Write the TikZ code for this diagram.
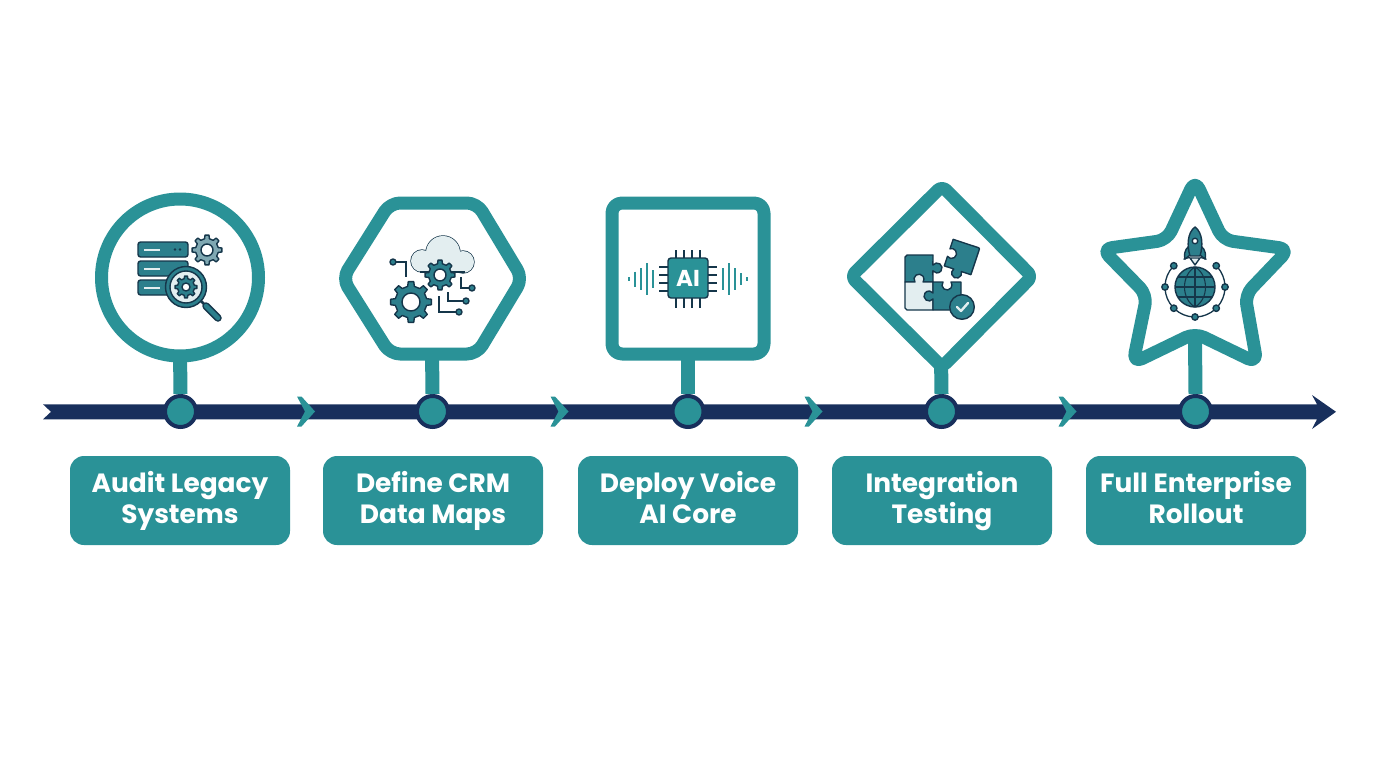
\documentclass[tikz,border=0pt]{standalone}
\usepackage{fontspec}
\setmainfont{Poppins}
\definecolor{teal1}{HTML}{2A9297}
\definecolor{navy1}{HTML}{182F5C}
\definecolor{ink}{HTML}{15364A}
\definecolor{iconteal}{HTML}{2C7F8C}
\definecolor{pale}{HTML}{E3EEF0}
\definecolor{greyteal}{HTML}{7FA8B2}
\newcommand{\lsa}{\rule{0pt}{23pt}}
\newcommand{\lsb}{\rule[-8pt]{0pt}{8pt}}
\tikzset{
  x=1pt,y=-1pt,
  frameline/.style={draw=teal1,line width=13pt,fill=white,line join=round},
  stem/.style={draw=teal1,line width=14pt},
  dotnode/.style={circle,draw=navy1,fill=teal1,line width=4pt,minimum size=31pt,inner sep=0pt},
  labelbox/.style={rectangle,rounded corners=14pt,fill=teal1,minimum width=220pt,minimum height=89pt,inner sep=0pt,
    text=white,align=center,font=\fontsize{26.4}{31.5}\selectfont\bfseries},
  chev/.style={fill=teal1},
  ic/.style={draw=ink,line width=1.4pt,line join=round},
  wire/.style={draw=ink,line width=1.3pt},
  wave/.style={draw=teal1,line width=2.2pt},
  pin/.style={draw=ink,line width=2pt},
}
% gear: x y outer inner hole teeth fill
\newcommand{\cog}[7]{%
  \begin{scope}[shift={(#1,#2)}]
    \pgfmathsetmacro{\st}{360/#6}
    \pgfmathsetmacro{\wa}{\st*0.17}
    \pgfmathsetmacro{\wb}{\st*0.27}
    \draw[ic,fill=#7] (-\wa:#3)
      \foreach \k in {1,...,#6} {
        \pgfextra{\pgfmathsetmacro{\ca}{(\k-1)*\st}}
        -- ({\ca-\wa}:#3) -- ({\ca+\wa}:#3) -- ({\ca+\wb}:#4) -- ({\ca+\st-\wb}:#4)
      } -- cycle;
    \draw[ic,fill=white] (0,0) circle[radius=#5];
  \end{scope}}
\newcommand{\chevron}[1]{%
  \fill[chev] (#1,396.5) -- (#1+4.5,396.5) -- (#1+18,411.5) -- (#1+4.5,426.5) -- (#1,426.5) -- (#1+8,411.5) -- cycle;}
\begin{document}
\begin{tikzpicture}
\useasboundingbox (0,0) rectangle (1376,768);
\coordinate (s1) at (180,350);
\coordinate (s2) at (432,350);
\coordinate (s3) at (688,350);
\coordinate (s4) at (941,355);
\coordinate (s5) at (1195,340);
% timeline
\fill[navy1] (43,404.3) -- (1317,404.3) -- (1312,395) -- (1336,411.8) -- (1312,429) -- (1317,419.3) -- (43,419.3) -- (51,411.8) -- cycle;
\chevron{297}\chevron{550.5}\chevron{804.5}\chevron{1058.5}
\node[dotnode] (d1) at (180.5,411.5) {};
\node[dotnode] (d2) at (432.5,411.5) {};
\node[dotnode] (d3) at (688,411.5) {};
\node[dotnode] (d4) at (941.5,411.5) {};
\node[dotnode] (d5) at (1195.5,411.5) {};
% stems
\draw[stem] (s1) -- (d1.north);
\draw[stem] (s2) -- (d2.north);
\draw[stem] (s3) -- (d3.north);
\draw[stem] (s4) -- (d4.north);
\draw[stem] (s5) -- (d5.north);
% frames
\draw[frameline] (180,277.5) circle[radius=78.5];
\draw[frameline,rounded corners=10pt] (342.5,278.5) -- (390,203) -- (477,203) -- (522.5,278.5) -- (477,354) -- (390,354) -- cycle;
\draw[frameline,rounded corners=10pt] (612,203) rectangle (764,354);
\draw[frameline,rounded corners=6pt] (942,186) -- (1032,276.5) -- (942,367) -- (851,276.5) -- cycle;
\draw[frameline,rounded corners=10pt] (1195,180) -- (1223,240) -- (1289,249) -- (1245,295) -- (1257,363) -- (1195,333) -- (1133,363) -- (1147,295) -- (1102,249) -- (1167,240) -- cycle;
% labels
\node[labelbox] (b1) at (180,500.5) {\lsa Audit Legacy\\\lsb Systems};
\node[labelbox] (b2) at (433,500.5) {\lsa Define CRM\\\lsb Data Maps};
\node[labelbox] (b3) at (688,500.5) {\lsa Deploy Voice\\\lsb AI Core};
\node[labelbox] (b4) at (942,500.5) {\lsa Integration\\\lsb Testing};
\node[labelbox] (b5) at (1196,500.5) {\lsa Full Enterprise\\\lsb Rollout};
% icon 1
\foreach \yy in {242,261,280}{
  \draw[ic,fill=iconteal,rounded corners=2.5pt] (138,\yy) rectangle (188,\yy+15);
  \fill[pale] (143.5,\yy+6.5) rectangle (160,\yy+8.5);
}
\fill[ink] (175,249.5) circle[radius=1.4] (180,249.5) circle[radius=1.4];
\cog{207}{250}{15}{11.5}{6}{8}{greyteal}
\draw[ink,line width=2.6pt] (198,298) -- (205,305);
\draw[ink,line width=7.5pt,line cap=round] (206,306) -- (218,318);
\draw[iconteal,line width=4.5pt,line cap=round] (206,306) -- (218,318);
\draw[ic,fill=iconteal] (186,287) circle[radius=20.5];
\draw[ic,fill=pale] (186,287) circle[radius=16];
\cog{186}{287}{11}{8.5}{4}{8}{iconteal}
% icon 2
\draw[ic] (422,261) circle[radius=11];
\draw[ic] (443,253) circle[radius=17];
\draw[ic] (463,262) circle[radius=11];
\fill[pale] (422,261) circle[radius=11];
\fill[pale] (443,253) circle[radius=17];
\fill[pale] (463,262) circle[radius=11];
\fill[pale] (422,255) rectangle (463,272);
\draw[ic] (420,272) -- (465,272);
\draw[wire] (396,262) -- (406,262) -- (406,277);
\draw[wire] (461,277) -- (461,288) -- (469,288);
\draw[wire] (448,292) -- (448,301) -- (463,301);
\draw[wire] (439,296) -- (439,312) -- (456,312);
\draw[ic,fill=iconteal] (393,262) circle[radius=3] (472,288) circle[radius=3] (466,301) circle[radius=3] (459,312) circle[radius=3];
\cog{440}{275}{15}{11.5}{6}{8}{iconteal}
\cog{411}{302}{20.5}{16}{9}{8}{iconteal}
% icon 3
\foreach \xx in {676,684,692,700}{
  \draw[pin] (\xx,250) -- (\xx,258);
  \draw[pin] (\xx,298) -- (\xx,308);
}
\foreach \yy in {267,275,283,291}{
  \draw[pin] (659,\yy) -- (668,\yy);
  \draw[pin] (708,\yy) -- (717,\yy);
}
\draw[ic,fill=teal1,rounded corners=3pt] (668,258) rectangle (708,298);
\node[text=white,font=\fontsize{23}{23}\selectfont\bfseries,inner sep=0pt] (ai) at (688,278.5) {AI};
\foreach \xx/\hh in {629/2,635/7.5,641/11,647/16,653/9,723/11,729/16,735/11,741/6,747/2}{
  \draw[wave] (\xx,279-\hh) -- (\xx,279+\hh);
}
% icon 4
\draw[ic,fill=iconteal] (905,282) -- (905,257) -- (907,255) -- (933,255) -- (932.9,265.1) arc[start angle=-145,end angle=145,radius=5] -- (933,282) -- cycle;
\draw[ic,fill=pale] (905,282) -- (914.9,282) arc[start angle=145,end angle=395,radius=5] -- (933,282) -- (933,310) -- (907,310) -- (905,308) -- cycle;
\draw[ic,fill=iconteal] (933,282) -- (943,282) arc[start angle=217,end angle=-37,radius=5] -- (961,282) -- (961,310) -- (933,310) -- (933,299) arc[start angle=37,end angle=323,radius=5] -- cycle;
\begin{scope}[shift={(962,257)},rotate=-18.4]
  \draw[ic,fill=iconteal] (-14,-14) -- (13,-14) -- (14,-13) -- (14,14) -- (4,14) arc[start angle=-37,end angle=217,radius=5] -- (-14,14) -- (-14,4) arc[start angle=127,end angle=-127,radius=5] -- cycle;
\end{scope}
\draw[ic,fill=iconteal] (962,307) circle[radius=12.3];
\draw[pale,line width=2.4pt,line cap=round,line join=round] (957,307) -- (961,311) -- (968,303);
% icon 5
\foreach \a in {-22.5,22.5,67.5,112.5,157.5,202.5}{
  \draw[wire] (1195,287) ++(\a-22.5+3:30) arc[start angle=\a-22.5+3,end angle=\a+22.5-3,radius=30];
}
\draw[wire] (1195,287) ++(-112.5:30) arc[start angle=-112.5,end angle=-100,radius=30];
\draw[wire] (1195,287) ++(-67.5:30) arc[start angle=-67.5,end angle=-80,radius=30];
\draw[ic,fill=iconteal] (1195,287) circle[radius=20];
\draw[ink,line width=1.1pt] (1175,287) -- (1215,287) (1195,267) -- (1195,307)
  (1178,277) -- (1212,277) (1178,297) -- (1212,297);
\draw[ink,line width=1.1pt] (1195,267) .. controls (1181,275) and (1181,299) .. (1195,307);
\draw[ink,line width=1.1pt] (1195,267) .. controls (1209,275) and (1209,299) .. (1195,307);
\foreach \a in {-135,-45,0,45,90,135,180}{
  \draw[ic,fill=iconteal] (1195,287) ++(\a:30) circle[radius=3.2];
}
\draw[ic,fill=pale] (1190,258) -- (1195,265) -- (1200,258) -- cycle;
\draw[ic,fill=iconteal] (1189,246) .. controls (1184,250) and (1184,256) .. (1185,259) -- (1190,255) -- cycle;
\draw[ic,fill=iconteal] (1201,246) .. controls (1206,250) and (1206,256) .. (1205,259) -- (1200,255) -- cycle;
\draw[ic,fill=iconteal] (1195,227) .. controls (1187,233) and (1187,246) .. (1190,256) -- (1200,256) .. controls (1203,246) and (1203,233) .. (1195,227) -- cycle;
\draw[ic,fill=white] (1195,241) circle[radius=2.8];
\end{tikzpicture}
\end{document}
